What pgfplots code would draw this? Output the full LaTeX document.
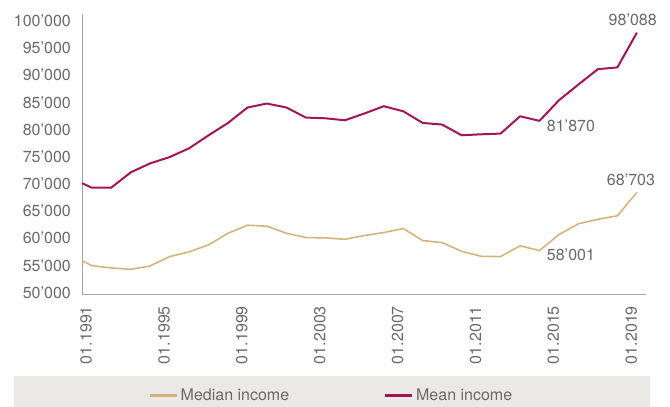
\documentclass[border=0pt]{standalone}
\usepackage{fontspec}
\setmainfont{TeX Gyre Heros}
\usepackage{pgfplots}
\usepackage{pgfplotstable}
\pgfplotsset{compat=1.18}

\definecolor{meanred}{RGB}{163,20,88}
\definecolor{mediantan}{RGB}{212,180,124}
\definecolor{bandgray}{RGB}{235,233,229}
\definecolor{txtgray}{RGB}{105,105,105}
\definecolor{axgray}{RGB}{165,165,165}

% household income, CHF per year
\pgfplotstableread{
year   median mean
1990.5 56140  70400
1991   55220  69560
1992   54800  69560
1993   54540  72380
1994   55170  74040
1995   56880  75200
1996   57750  76810
1997   59040  79200
1998   61180  81480
1999   62660  84320
2000   62470  85050
2001   61180  84320
2002   60390  82470
2003   60330  82340
2004   60070  81970
2005   60760  83210
2006   61310  84560
2007   62050  83630
2008   59830  81480
2009   59460  81180
2010   57860  79210
2011   56940  79390
2012   56880  79520
2013   58860  82710
2014   58001  81870
2015   60940  85660
2016   62920  88560
2017   63760  91380
2018   64390  91700
2019   68703  98088
}\income

\newcommand{\lbl}{\fontsize{16}{19}\selectfont}

\begin{document}
\begin{tikzpicture}[x=1pt,y=1pt]
\path[use as bounding box] (0,0) rectangle (670,407);
\fill[bandgray] (14,0) rectangle (650,31);
\begin{axis}[
  at={(82pt,113pt)}, anchor=south west,
  scale only axis, width=564pt, height=280pt,
  xmin=1990.5, xmax=2019.47,
  ymin=50000, ymax=101530,
  scaled y ticks=false, scaled x ticks=false,
  axis x line=bottom, axis y line=left,
  axis line style={-, draw=axgray, line width=0.9pt},
  major tick length=0pt,
  xtick={1990.71,1994.71,1998.71,2002.71,2006.71,2010.71,2014.71,2018.71},
  xticklabels={01.1991,01.1995,01.1999,01.2003,01.2007,01.2011,01.2015,01.2019},
  ytick={50000,55000,60000,65000,70000,75000,80000,85000,90000,95000,100000},
  yticklabels={50’000,55’000,60’000,65’000,70’000,75’000,80’000,85’000,90’000,95’000,100’000},
  tick label style={font=\lbl, text=txtgray, inner sep=0pt},
  xticklabel shift=12pt,
  yticklabel shift=11pt,
  yticklabel style={yshift=1.5pt},
  xticklabel style={rotate=90, anchor=east},
  clip=false,
  legend columns=2,
  legend image code/.code={\draw[#1, line width=3pt] (0pt,0pt) -- (27pt,0pt);},
  legend style={at={(axis description cs:0.117,-0.363)}, anchor=west,
    draw=none, fill=none, inner sep=0pt, font=\lbl, text=txtgray,
    nodes={inner sep=2.5pt},
    /tikz/every even column/.append style={column sep=92pt}},
]
\addplot[mediantan, line width=1.6pt, line join=round] table[x=year, y=median]{\income};
\addlegendentry{Median income}
\addplot[meanred, line width=2pt, line join=round] table[x=year, y=mean]{\income};
\addlegendentry{Mean income}

\node[font=\lbl, text=txtgray, inner sep=0pt, anchor=center] at (axis cs:2018.79,100420) {98’088};
\node[font=\lbl, text=txtgray, inner sep=0pt, anchor=west] at (axis cs:2014.37,80920) {81’870};
\node[font=\lbl, text=txtgray, inner sep=0pt, anchor=center] at (axis cs:2018.7,70960) {68’703};
\node[font=\lbl, text=txtgray, inner sep=0pt, anchor=west] at (axis cs:2014.37,57250) {58’001};
\end{axis}
\end{tikzpicture}
\end{document}
